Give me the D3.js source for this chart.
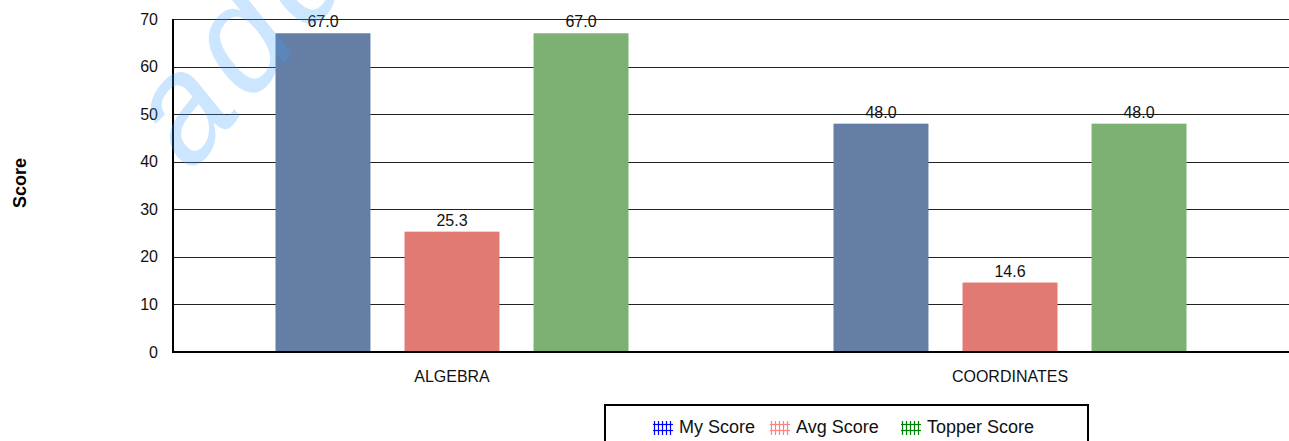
<!DOCTYPE html>
<html>
<head>
<script src="https://d3js.org/d3.v7.min.js"></script>
<style>
  html, body { margin: 0; padding: 0; background: #fff; font-family: Arial, "Liberation Sans", sans-serif; }
  svg { display: block; }
</style>
</head>
<body>
<svg id="chart" width="1289" height="441"></svg>
<script>
var categories = ["ALGEBRA", "COORDINATES"];
var seriesNames = ["My Score", "Avg Score", "Topper Score"];
var myScore = [67.0, 48.0];
var avgScore = [25.3, 14.6];
var topperScore = [67.0, 48.0];
var yTicks = [0, 10, 20, 30, 40, 50, 60, 70];

var barColors = ["#647ea6", "#e07a73", "#7db174"];
var hatchColors = ["#0000ff", "#ff8080", "#008000"];

var svg = d3.select("#chart");
var margin = {left: 173, right: 0, top: 19, bottom: 89};
var width = 1289, height = 441;

var x0 = d3.scaleBand().domain(categories).range([margin.left, width]);
var x1 = d3.scaleBand().domain(seriesNames).range([102.5, 558 - 102.5]).paddingInner(0.264);
var y = d3.scaleLinear().domain([0, 70]).range([height - margin.bottom, margin.top]);

// hatch patterns for legend
var defs = svg.append("defs");
hatchColors.forEach(function(c, i) {
  var p = defs.append("pattern").attr("id", "hatch" + i)
    .attr("patternUnits", "userSpaceOnUse").attr("width", 4).attr("height", 6);
  p.append("line").attr("x1", 1.5).attr("x2", 1.5).attr("y1", 0).attr("y2", 6)
    .attr("stroke", c).attr("stroke-width", 1.2);
  p.append("line").attr("x1", 0).attr("x2", 4).attr("y1", 3.5).attr("y2", 3.5)
    .attr("stroke", c).attr("stroke-width", 1.2);
});

// gridlines
svg.append("g").selectAll("line").data(yTicks.slice(1)).join("line")
  .attr("x1", margin.left).attr("x2", width)
  .attr("y1", function(d) { return Math.round(y(d)) + 0.5; })
  .attr("y2", function(d) { return Math.round(y(d)) + 0.5; })
  .attr("stroke", "#222").attr("stroke-width", 1);

// y axis labels
var yAxis = d3.axisLeft(y).tickValues(yTicks).tickSize(0).tickPadding(15);
var ga = svg.append("g").attr("transform", "translate(" + margin.left + ",0)").call(yAxis);
ga.select(".domain").remove();
ga.selectAll("text").attr("font-size", 16).attr("fill", "#111").attr("font-family", "Arial, 'Liberation Sans', sans-serif");

// bars
var series = [myScore, avgScore, topperScore];
var groups = svg.append("g").selectAll("g").data(categories).join("g")
  .attr("transform", function(d) { return "translate(" + x0(d) + ",0)"; });

groups.selectAll("rect").data(function(d, ci) {
  return seriesNames.map(function(s, si) { return {s: s, si: si, v: series[si][ci]}; });
}).join("rect")
  .attr("x", function(d) { return x1(d.s); })
  .attr("width", x1.bandwidth())
  .attr("y", function(d) { return y(d.v); })
  .attr("height", function(d) { return y(0) - y(d.v); })
  .attr("fill", function(d) { return barColors[d.si]; });

groups.selectAll("text").data(function(d, ci) {
  return seriesNames.map(function(s, si) { return {s: s, si: si, v: series[si][ci]}; });
}).join("text")
  .attr("x", function(d) { return x1(d.s) + x1.bandwidth() / 2; })
  .attr("y", function(d) { return y(d.v) - 6; })
  .attr("text-anchor", "middle").attr("font-size", 16).attr("fill", "#111")
  .text(function(d) { return d.v.toFixed(1); });

// axes lines
svg.append("line").attr("x1", margin.left).attr("x2", margin.left)
  .attr("y1", margin.top).attr("y2", y(0) + 1).attr("stroke", "#000").attr("stroke-width", 2);
svg.append("line").attr("x1", margin.left - 1).attr("x2", width)
  .attr("y1", y(0)).attr("y2", y(0)).attr("stroke", "#000").attr("stroke-width", 2);

// category labels
svg.append("g").selectAll("text").data(categories).join("text")
  .attr("x", function(d) { return x0(d) + x0.bandwidth() / 2; })
  .attr("y", 382).attr("text-anchor", "middle").attr("font-size", 16).attr("fill", "#111")
  .text(function(d) { return d; });

// y title
svg.append("text").attr("transform", "translate(26,183) rotate(-90)")
  .attr("text-anchor", "middle").attr("font-size", 18).attr("font-weight", "bold")
  .attr("fill", "#000").text("Score");

// legend
svg.append("rect").attr("x", 605).attr("y", 405).attr("width", 483).attr("height", 45)
  .attr("fill", "#fff").attr("stroke", "#000").attr("stroke-width", 2);
var legX = [653, 770, 901];
var leg = svg.append("g").selectAll("g").data(seriesNames).join("g")
  .attr("transform", function(d, i) { return "translate(" + legX[i] + ",421)"; });
leg.append("rect").attr("width", 20).attr("height", 14)
  .attr("fill", function(d, i) { return "url(#hatch" + i + ")"; });
leg.append("text").attr("x", 26).attr("y", 12).attr("font-size", 18).attr("fill", "#111")
  .text(function(d) { return d; });

// watermark
svg.append("text").attr("transform", "translate(190,175) rotate(-50)")
  .attr("font-size", 150).attr("font-style", "italic").attr("font-family", "'Liberation Mono', monospace")
  .attr("fill", "#3ea0ff").attr("opacity", 0.25).text("adda");
</script>
</body>
</html>
